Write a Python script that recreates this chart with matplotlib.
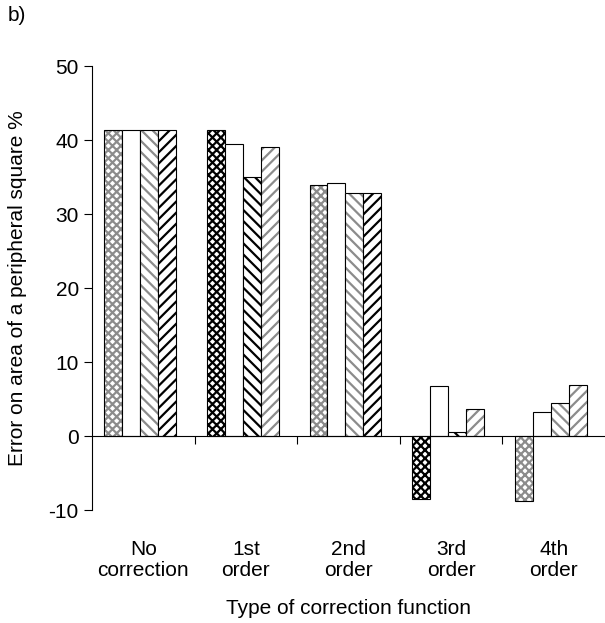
import matplotlib.pyplot as plt
import matplotlib.transforms as mtransforms
import numpy as np

plt.rcParams['font.family'] = ['Liberation Sans', 'DejaVu Sans']
plt.rcParams['hatch.linewidth'] = 1.6
plt.rcParams['axes.unicode_minus'] = False

# data
categories = ['No\ncorrection', '1st\norder', '2nd\norder', '3rd\norder', '4th\norder']
series = [
    [41.3, 41.3, 33.9, -8.5, -8.8],
    [41.3, 39.4, 34.2, 6.8, 3.3],
    [41.3, 35.0, 32.8, 0.6, 4.4],
    [41.3, 39.0, 32.9, 3.7, 6.9],
]

# hatch per series, hatch colour per bar (rendering alternates gray/black)
hatches = ['xxxx', '', '\\\\\\', '///']
hatch_cols = [
    ['0.55', 'k', '0.55', 'k', '0.55'],
    ['k', 'k', 'k', 'k', 'k'],
    ['0.55', 'k', '0.55', 'k', '0.55'],
    ['k', '0.55', 'k', '0.55', '0.55'],
]

fig = plt.figure(figsize=(6.05, 6.23), dpi=100)
ax = fig.add_axes([92/605, 1 - 510/623, 513/605, (510 - 66)/623])

x = np.arange(len(categories))
w = 0.175
for i, vals in enumerate(series):
    pos = x + (i - 1.5) * w - 0.03
    for j, v in enumerate(vals):
        ax.bar(pos[j], v, w, color='white', edgecolor=hatch_cols[i][j],
               hatch=hatches[i], linewidth=0)
        ax.bar(pos[j], v, w, color='none', edgecolor='black', linewidth=0.8)

ax.set_xlim(-0.5, len(categories) - 0.5)
ax.set_ylim(-10, 50)
ax.set_yticks([-10, 0, 10, 20, 30, 40, 50])
ax.tick_params(axis='y', labelsize=15, length=6, direction='out', width=0.8)

ax.spines['top'].set_visible(False)
ax.spines['right'].set_visible(False)
ax.spines['bottom'].set_position(('data', 0))
ax.spines['left'].set_linewidth(0.8)
ax.spines['bottom'].set_linewidth(0.8)

ax.set_xticks(np.arange(0.5, len(categories) - 1, 1))
ax.set_xticklabels([])
ax.tick_params(axis='x', length=6, direction='out', width=0.8)

trans = mtransforms.blended_transform_factory(ax.transData, fig.transFigure)
for j, lab in enumerate(categories):
    ax.text(x[j], 1 - 540/623, lab, transform=trans, ha='center', va='top',
            fontsize=15, linespacing=1.1)

fig.text(0.5 * (92 + 605) / 605, 1 - 618/623, 'Type of correction function',
         ha='center', va='bottom', fontsize=15)
fig.text(8/605, 1 - 288/623, 'Error on area of a peripheral square %',
         rotation=90, ha='left', va='center', fontsize=15)
fig.text(8/605, 1 - 6/623, 'b)', ha='left', va='top', fontsize=15)

fig.savefig('out.png', dpi=100)
